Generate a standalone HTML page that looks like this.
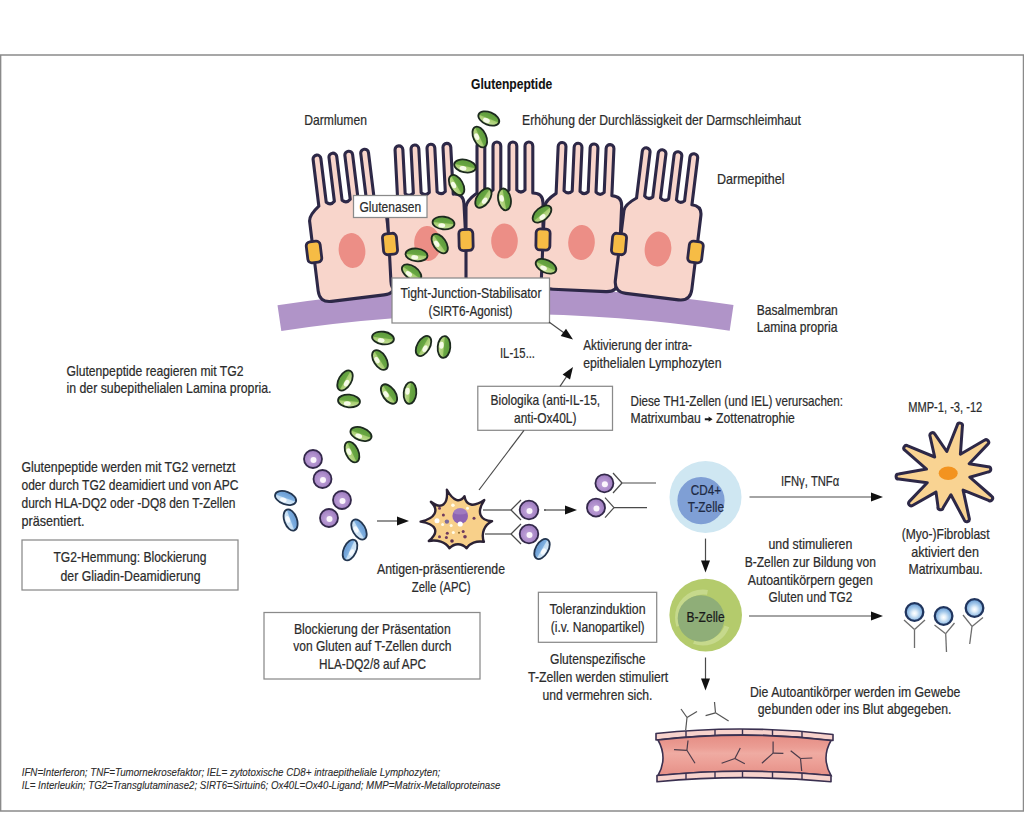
<!DOCTYPE html>
<html><head><meta charset="utf-8"><style>
html,body{margin:0;padding:0;background:#fff;width:1024px;height:813px;overflow:hidden}
svg{display:block;font-family:"Liberation Sans",sans-serif}
</style></head><body>
<svg width="1024" height="813" viewBox="0 0 1024 813">

<defs>
<linearGradient id="gg" x1="0" y1="0" x2="0" y2="1">
 <stop offset="0" stop-color="#7fb658"/><stop offset="0.15" stop-color="#5f9e3c"/><stop offset="0.47" stop-color="#6aa744"/><stop offset="0.55" stop-color="#a6cd6f"/><stop offset="0.85" stop-color="#bcdb8e"/><stop offset="1" stop-color="#d0e7ad"/>
</linearGradient>
<linearGradient id="bg" x1="0" y1="0" x2="0" y2="1">
 <stop offset="0" stop-color="#8fb9e3"/><stop offset="0.15" stop-color="#6d9fd6"/><stop offset="0.47" stop-color="#7fb0e0"/><stop offset="0.55" stop-color="#c4def4"/><stop offset="1" stop-color="#dcecf9"/>
</linearGradient>
<radialGradient id="pg" cx="0.45" cy="0.55" r="0.6">
 <stop offset="0" stop-color="#c4a9dc"/><stop offset="0.6" stop-color="#ac8bca"/><stop offset="1" stop-color="#9575b8"/>
</radialGradient>
<radialGradient id="abg" cx="0.5" cy="0.58" r="0.55">
 <stop offset="0" stop-color="#ffffff"/><stop offset="0.25" stop-color="#e3f0fa"/><stop offset="0.6" stop-color="#a3c8ea"/><stop offset="1" stop-color="#6a9dd3"/>
</radialGradient>
<linearGradient id="vess" x1="0" y1="0" x2="0" y2="1">
 <stop offset="0" stop-color="#e58d84"/><stop offset="0.3" stop-color="#eb9d94"/><stop offset="0.45" stop-color="#efaba2"/><stop offset="0.7" stop-color="#ec9f96"/><stop offset="1" stop-color="#e58f86"/>
</linearGradient>
</defs>
<rect x="0" y="0" width="1024" height="813" fill="#fff"/>
<rect x="0.6" y="55" width="1022.9" height="756" fill="none" stroke="#8a8a8a" stroke-width="1.5"/>
<path d="M 277.5,305.3 A 1537,1537 0 0 1 733.5,305.1 L 729.7,330.8 A 1511,1511 0 0 0 281.3,331.0 Z" fill="#b094c8"/>
<g transform="translate(352.0,250.5) rotate(-7.0) translate(-38.5,-48.0)">
<path d="M 12,96 Q 0,96 0,84 L 0,14 Q 0,8 11,0 L 11,-47.1 A 3.9,3.9 0 0 1 18.8,-47.1 L 18.8,-3 Q 22.9,1 27.0,-3 L 27.0,-47.1 A 3.9,3.9 0 0 1 34.8,-47.1 L 34.8,-3 Q 38.9,1 43.0,-3 L 43.0,-47.1 A 3.9,3.9 0 0 1 50.8,-47.1 L 50.8,-3 Q 54.9,1 59.0,-3 L 59.0,-47.1 A 3.9,3.9 0 0 1 66.8,-47.1 L 66.8,0 Q 77,0 77,10 L 77,84 Q 77,96 65,96 Z" fill="#f8d5cb" stroke="#2d2847" stroke-width="3.1" stroke-linejoin="round"/>
<ellipse cx="38.5" cy="48.0" rx="13.3" ry="17.5" fill="#ec8e86"/>
</g>
<g transform="translate(427.5,243.5) rotate(-3.0) translate(-38.5,-48.0)">
<path d="M 12,96 Q 0,96 0,84 L 0,14 Q 0,8 11,0 L 11,-47.1 A 3.9,3.9 0 0 1 18.8,-47.1 L 18.8,-3 Q 22.9,1 27.0,-3 L 27.0,-47.1 A 3.9,3.9 0 0 1 34.8,-47.1 L 34.8,-3 Q 38.9,1 43.0,-3 L 43.0,-47.1 A 3.9,3.9 0 0 1 50.8,-47.1 L 50.8,-3 Q 54.9,1 59.0,-3 L 59.0,-47.1 A 3.9,3.9 0 0 1 66.8,-47.1 L 66.8,0 Q 77,0 77,10 L 77,84 Q 77,96 65,96 Z" fill="#f8d5cb" stroke="#2d2847" stroke-width="3.1" stroke-linejoin="round"/>
<ellipse cx="38.5" cy="48.0" rx="13.3" ry="17.5" fill="#ec8e86"/>
</g>
<g transform="translate(504.5,241.0) rotate(0.0) translate(-38.5,-48.0)">
<path d="M 12,96 Q 0,96 0,84 L 0,14 Q 0,8 11,0 L 11,-47.1 A 3.9,3.9 0 0 1 18.8,-47.1 L 18.8,-3 Q 22.9,1 27.0,-3 L 27.0,-47.1 A 3.9,3.9 0 0 1 34.8,-47.1 L 34.8,-3 Q 38.9,1 43.0,-3 L 43.0,-47.1 A 3.9,3.9 0 0 1 50.8,-47.1 L 50.8,-3 Q 54.9,1 59.0,-3 L 59.0,-47.1 A 3.9,3.9 0 0 1 66.8,-47.1 L 66.8,0 Q 77,0 77,10 L 77,84 Q 77,96 65,96 Z" fill="#f8d5cb" stroke="#2d2847" stroke-width="3.1" stroke-linejoin="round"/>
<ellipse cx="38.5" cy="48.0" rx="13.3" ry="17.5" fill="#ec8e86"/>
</g>
<g transform="translate(581.5,242.5) rotate(2.5) translate(-38.5,-48.0)">
<path d="M 12,96 Q 0,96 0,84 L 0,14 Q 0,8 11,0 L 11,-47.1 A 3.9,3.9 0 0 1 18.8,-47.1 L 18.8,-3 Q 22.9,1 27.0,-3 L 27.0,-47.1 A 3.9,3.9 0 0 1 34.8,-47.1 L 34.8,-3 Q 38.9,1 43.0,-3 L 43.0,-47.1 A 3.9,3.9 0 0 1 50.8,-47.1 L 50.8,-3 Q 54.9,1 59.0,-3 L 59.0,-47.1 A 3.9,3.9 0 0 1 66.8,-47.1 L 66.8,0 Q 77,0 77,10 L 77,84 Q 77,96 65,96 Z" fill="#f8d5cb" stroke="#2d2847" stroke-width="3.1" stroke-linejoin="round"/>
<ellipse cx="38.5" cy="48.0" rx="13.3" ry="17.5" fill="#ec8e86"/>
</g>
<g transform="translate(658.0,249.0) rotate(7.0) translate(-38.5,-48.0)">
<path d="M 12,96 Q 0,96 0,84 L 0,14 Q 0,8 11,0 L 11,-47.1 A 3.9,3.9 0 0 1 18.8,-47.1 L 18.8,-3 Q 22.9,1 27.0,-3 L 27.0,-47.1 A 3.9,3.9 0 0 1 34.8,-47.1 L 34.8,-3 Q 38.9,1 43.0,-3 L 43.0,-47.1 A 3.9,3.9 0 0 1 50.8,-47.1 L 50.8,-3 Q 54.9,1 59.0,-3 L 59.0,-47.1 A 3.9,3.9 0 0 1 66.8,-47.1 L 66.8,0 Q 77,0 77,10 L 77,84 Q 77,96 65,96 Z" fill="#f8d5cb" stroke="#2d2847" stroke-width="3.1" stroke-linejoin="round"/>
<ellipse cx="38.5" cy="48.0" rx="13.3" ry="17.5" fill="#ec8e86"/>
</g>
<rect x="307" y="241.5" width="14" height="21" rx="4" transform="rotate(-7 314 252)" fill="#f6bc45" stroke="#2d2847" stroke-width="2.8"/>
<rect x="383" y="233.5" width="14" height="21" rx="4" transform="rotate(-5 390 244)" fill="#f6bc45" stroke="#2d2847" stroke-width="2.8"/>
<rect x="459" y="229.5" width="14" height="21" rx="4" transform="rotate(-1.5 466 240)" fill="#f6bc45" stroke="#2d2847" stroke-width="2.8"/>
<rect x="536" y="229.0" width="14" height="21" rx="4" transform="rotate(1 543 239.5)" fill="#f6bc45" stroke="#2d2847" stroke-width="2.8"/>
<rect x="612" y="233.5" width="14" height="21" rx="4" transform="rotate(5 619 244)" fill="#f6bc45" stroke="#2d2847" stroke-width="2.8"/>
<rect x="688.5" y="241.5" width="14" height="21" rx="4" transform="rotate(7 695.5 252)" fill="#f6bc45" stroke="#2d2847" stroke-width="2.8"/>
<g transform="translate(488.8,118.5) rotate(22)"><ellipse rx="11" ry="6.3" fill="url(#gg)" stroke="#1c2a1e" stroke-width="1.8"/><ellipse cx="-1.5" cy="2.6" rx="3.5" ry="2.2" fill="#f6fbe8"/></g>
<g transform="translate(479.8,137) rotate(65)"><ellipse rx="11" ry="6.3" fill="url(#gg)" stroke="#1c2a1e" stroke-width="1.8"/><ellipse cx="-1.5" cy="2.6" rx="3.5" ry="2.2" fill="#f6fbe8"/></g>
<g transform="translate(465,166) rotate(12)"><ellipse rx="11" ry="6.3" fill="url(#gg)" stroke="#1c2a1e" stroke-width="1.8"/><ellipse cx="-1.5" cy="2.6" rx="3.5" ry="2.2" fill="#f6fbe8"/></g>
<g transform="translate(456.6,185) rotate(60)"><ellipse rx="11" ry="6.3" fill="url(#gg)" stroke="#1c2a1e" stroke-width="1.8"/><ellipse cx="-1.5" cy="2.6" rx="3.5" ry="2.2" fill="#f6fbe8"/></g>
<g transform="translate(483.4,198) rotate(-55)"><ellipse rx="11" ry="6.3" fill="url(#gg)" stroke="#1c2a1e" stroke-width="1.8"/><ellipse cx="-1.5" cy="2.6" rx="3.5" ry="2.2" fill="#f6fbe8"/></g>
<g transform="translate(504.5,199.4) rotate(80)"><ellipse rx="11" ry="6.3" fill="url(#gg)" stroke="#1c2a1e" stroke-width="1.8"/><ellipse cx="-1.5" cy="2.6" rx="3.5" ry="2.2" fill="#f6fbe8"/></g>
<g transform="translate(542,214) rotate(-40)"><ellipse rx="11" ry="6.3" fill="url(#gg)" stroke="#1c2a1e" stroke-width="1.8"/><ellipse cx="-1.5" cy="2.6" rx="3.5" ry="2.2" fill="#f6fbe8"/></g>
<g transform="translate(443.5,223) rotate(6)"><ellipse rx="11" ry="6.3" fill="url(#gg)" stroke="#1c2a1e" stroke-width="1.8"/><ellipse cx="-1.5" cy="2.6" rx="3.5" ry="2.2" fill="#f6fbe8"/></g>
<g transform="translate(439.7,243.6) rotate(55)"><ellipse rx="11" ry="6.3" fill="url(#gg)" stroke="#1c2a1e" stroke-width="1.8"/><ellipse cx="-1.5" cy="2.6" rx="3.5" ry="2.2" fill="#f6fbe8"/></g>
<g transform="translate(416.5,254.9) rotate(6)"><ellipse rx="11" ry="6.3" fill="url(#gg)" stroke="#1c2a1e" stroke-width="1.8"/><ellipse cx="-1.5" cy="2.6" rx="3.5" ry="2.2" fill="#f6fbe8"/></g>
<g transform="translate(411.6,272.5) rotate(35)"><ellipse rx="11" ry="6.3" fill="url(#gg)" stroke="#1c2a1e" stroke-width="1.8"/><ellipse cx="-1.5" cy="2.6" rx="3.5" ry="2.2" fill="#f6fbe8"/></g>
<g transform="translate(546,266.3) rotate(25)"><ellipse rx="11" ry="6.3" fill="url(#gg)" stroke="#1c2a1e" stroke-width="1.8"/><ellipse cx="-1.5" cy="2.6" rx="3.5" ry="2.2" fill="#f6fbe8"/></g>
<rect x="353.5" y="195.5" width="73.5" height="22.0" fill="#fff" stroke="#8a8a8a" stroke-width="1.25"/>
<rect x="392" y="278" width="157.5" height="45" fill="#fff" stroke="#8a8a8a" stroke-width="1.25"/>
<rect x="477.8" y="386.3" width="134.7" height="44.0" fill="#fff" stroke="#8a8a8a" stroke-width="1.25"/>
<rect x="22" y="540" width="216" height="50" fill="#fff" stroke="#8a8a8a" stroke-width="1.25"/>
<rect x="538.4" y="592.3" width="118.30000000000007" height="50.0" fill="#fff" stroke="#8a8a8a" stroke-width="1.25"/>
<rect x="264" y="612.5" width="216" height="66.5" fill="#fff" stroke="#8a8a8a" stroke-width="1.25"/>
<g transform="translate(383,338) rotate(8)"><ellipse rx="11" ry="6.3" fill="url(#gg)" stroke="#1c2a1e" stroke-width="1.8"/><ellipse cx="-1.5" cy="2.6" rx="3.5" ry="2.2" fill="#f6fbe8"/></g>
<g transform="translate(380,360) rotate(58)"><ellipse rx="11" ry="6.3" fill="url(#gg)" stroke="#1c2a1e" stroke-width="1.8"/><ellipse cx="-1.5" cy="2.6" rx="3.5" ry="2.2" fill="#f6fbe8"/></g>
<g transform="translate(423.5,346) rotate(-60)"><ellipse rx="11" ry="6.3" fill="url(#gg)" stroke="#1c2a1e" stroke-width="1.8"/><ellipse cx="-1.5" cy="2.6" rx="3.5" ry="2.2" fill="#f6fbe8"/></g>
<g transform="translate(444,347) rotate(95)"><ellipse rx="11" ry="6.3" fill="url(#gg)" stroke="#1c2a1e" stroke-width="1.8"/><ellipse cx="-1.5" cy="2.6" rx="3.5" ry="2.2" fill="#f6fbe8"/></g>
<g transform="translate(345,380.5) rotate(-60)"><ellipse rx="11" ry="6.3" fill="url(#gg)" stroke="#1c2a1e" stroke-width="1.8"/><ellipse cx="-1.5" cy="2.6" rx="3.5" ry="2.2" fill="#f6fbe8"/></g>
<g transform="translate(349,401) rotate(5)"><ellipse rx="11" ry="6.3" fill="url(#gg)" stroke="#1c2a1e" stroke-width="1.8"/><ellipse cx="-1.5" cy="2.6" rx="3.5" ry="2.2" fill="#f6fbe8"/></g>
<g transform="translate(389,394) rotate(55)"><ellipse rx="11" ry="6.3" fill="url(#gg)" stroke="#1c2a1e" stroke-width="1.8"/><ellipse cx="-1.5" cy="2.6" rx="3.5" ry="2.2" fill="#f6fbe8"/></g>
<g transform="translate(410,393) rotate(95)"><ellipse rx="11" ry="6.3" fill="url(#gg)" stroke="#1c2a1e" stroke-width="1.8"/><ellipse cx="-1.5" cy="2.6" rx="3.5" ry="2.2" fill="#f6fbe8"/></g>
<g transform="translate(361,434) rotate(20)"><ellipse rx="11" ry="6.3" fill="url(#gg)" stroke="#1c2a1e" stroke-width="1.8"/><ellipse cx="-1.5" cy="2.6" rx="3.5" ry="2.2" fill="#f6fbe8"/></g>
<g transform="translate(352,452) rotate(65)"><ellipse rx="11" ry="6.3" fill="url(#gg)" stroke="#1c2a1e" stroke-width="1.8"/><ellipse cx="-1.5" cy="2.6" rx="3.5" ry="2.2" fill="#f6fbe8"/></g>
<circle cx="313" cy="459" r="9" fill="url(#pg)" stroke="#33284a" stroke-width="1.8"/><circle cx="313.5" cy="460" r="3" fill="#fbf6fc"/>
<circle cx="322.5" cy="479" r="9" fill="url(#pg)" stroke="#33284a" stroke-width="1.8"/><circle cx="323.0" cy="480" r="3" fill="#fbf6fc"/>
<circle cx="342" cy="500" r="9" fill="url(#pg)" stroke="#33284a" stroke-width="1.8"/><circle cx="342.5" cy="501" r="3" fill="#fbf6fc"/>
<circle cx="329" cy="518" r="9" fill="url(#pg)" stroke="#33284a" stroke-width="1.8"/><circle cx="329.5" cy="519" r="3" fill="#fbf6fc"/>
<g transform="translate(285.6,498) rotate(20)"><ellipse rx="11" ry="6.3" fill="url(#bg)" stroke="#22354f" stroke-width="1.8"/><ellipse cx="-1.5" cy="2.5" rx="3.4" ry="2.1" fill="#f5fafe"/></g>
<g transform="translate(290.6,520) rotate(70)"><ellipse rx="11" ry="6.3" fill="url(#bg)" stroke="#22354f" stroke-width="1.8"/><ellipse cx="-1.5" cy="2.5" rx="3.4" ry="2.1" fill="#f5fafe"/></g>
<g transform="translate(359,529.5) rotate(60)"><ellipse rx="11" ry="6.3" fill="url(#bg)" stroke="#22354f" stroke-width="1.8"/><ellipse cx="-1.5" cy="2.5" rx="3.4" ry="2.1" fill="#f5fafe"/></g>
<g transform="translate(350,550) rotate(-65)"><ellipse rx="11" ry="6.3" fill="url(#bg)" stroke="#22354f" stroke-width="1.8"/><ellipse cx="-1.5" cy="2.5" rx="3.4" ry="2.1" fill="#f5fafe"/></g>
<g transform="translate(542,549) rotate(-60)"><ellipse rx="11" ry="6.3" fill="url(#bg)" stroke="#22354f" stroke-width="1.8"/><ellipse cx="-1.5" cy="2.5" rx="3.4" ry="2.1" fill="#f5fafe"/></g>
<line x1="549" y1="322" x2="565.2431277099228" y2="333.84394728848537" stroke="#4a4a4a" stroke-width="1.2"/>
<path d="M 573.0,339.5 L 560.7,336.1 L 566.0,328.8 Z" fill="#111"/>
<line x1="560" y1="386.3" x2="567.6368571470326" y2="374.9622043894053" stroke="#4a4a4a" stroke-width="1.2"/>
<path d="M 573.0,367.0 L 570.0,379.5 L 562.6,374.4 Z" fill="#111"/>
<line x1="479" y1="490" x2="524" y2="430.3" stroke="#4a4a4a" stroke-width="1.2"/>
<line x1="377" y1="521" x2="399.4" y2="521.0" stroke="#4a4a4a" stroke-width="1.2"/>
<path d="M 409.0,521.0 L 397.0,525.5 L 397.0,516.5 Z" fill="#111"/>
<line x1="544" y1="510" x2="567.4" y2="510.0" stroke="#4a4a4a" stroke-width="1.2"/>
<path d="M 577.0,510.0 L 565.0,514.5 L 565.0,505.5 Z" fill="#111"/>
<line x1="749.5" y1="497" x2="873.4" y2="497.0" stroke="#4a4a4a" stroke-width="1.2"/>
<path d="M 883.0,497.0 L 871.0,501.5 L 871.0,492.5 Z" fill="#111"/>
<line x1="705.5" y1="538.6" x2="705.5" y2="562.9" stroke="#4a4a4a" stroke-width="1.2"/>
<path d="M 705.5,572.5 L 701.0,560.5 L 710.0,560.5 Z" fill="#111"/>
<line x1="749" y1="616" x2="873.4" y2="616.0" stroke="#4a4a4a" stroke-width="1.2"/>
<path d="M 883.0,616.0 L 871.0,620.5 L 871.0,611.5 Z" fill="#111"/>
<line x1="705.5" y1="657.5" x2="705.5" y2="680.9" stroke="#4a4a4a" stroke-width="1.2"/>
<path d="M 705.5,690.5 L 701.0,678.5 L 710.0,678.5 Z" fill="#111"/>
<line x1="483" y1="510" x2="511" y2="510" stroke="#4a4a4a" stroke-width="1.2"/>
<line x1="511" y1="510" x2="521" y2="500" stroke="#4a4a4a" stroke-width="1.2"/>
<line x1="511" y1="510" x2="521" y2="520" stroke="#4a4a4a" stroke-width="1.2"/>
<line x1="485" y1="534" x2="511" y2="534" stroke="#4a4a4a" stroke-width="1.2"/>
<line x1="511" y1="534" x2="521" y2="524" stroke="#4a4a4a" stroke-width="1.2"/>
<line x1="511" y1="534" x2="521" y2="544" stroke="#4a4a4a" stroke-width="1.2"/>
<circle cx="529" cy="510" r="9.3" fill="url(#pg)" stroke="#33284a" stroke-width="1.8"/><circle cx="529.5" cy="511" r="3" fill="#fbf6fc"/>
<circle cx="529" cy="534" r="9.3" fill="url(#pg)" stroke="#33284a" stroke-width="1.8"/><circle cx="529.5" cy="535" r="3" fill="#fbf6fc"/>
<line x1="544" y1="510" x2="546" y2="510" stroke="#4a4a4a" stroke-width="1.2"/>
<line x1="622" y1="483" x2="656" y2="483" stroke="#4a4a4a" stroke-width="1.2"/>
<line x1="622" y1="483" x2="613" y2="473" stroke="#4a4a4a" stroke-width="1.2"/>
<line x1="622" y1="483" x2="613" y2="493" stroke="#4a4a4a" stroke-width="1.2"/>
<line x1="614" y1="507.6" x2="647" y2="507.6" stroke="#4a4a4a" stroke-width="1.2"/>
<line x1="614" y1="507.6" x2="605" y2="497.6" stroke="#4a4a4a" stroke-width="1.2"/>
<line x1="614" y1="507.6" x2="605" y2="517.6" stroke="#4a4a4a" stroke-width="1.2"/>
<circle cx="604.4" cy="483.3" r="9" fill="url(#pg)" stroke="#33284a" stroke-width="1.8"/><circle cx="604.9" cy="484.3" r="3" fill="#fbf6fc"/>
<circle cx="596" cy="507.6" r="9" fill="url(#pg)" stroke="#33284a" stroke-width="1.8"/><circle cx="596.5" cy="508.6" r="3" fill="#fbf6fc"/>
<path d="M 420.6,521.6 Q 431.6,519.2 434.5,513.7 T 430.9,501.8 Q 438.9,507.9 443.4,504.5 T 446.9,489.7 Q 451.4,498.0 456.3,499.8 T 464.5,496.2 Q 465.5,503.4 471.0,504.5 T 484.3,500.1 Q 478.3,509.0 480.5,514.9 T 492.1,521.2 Q 486.2,524.0 483.9,529.8 T 483.9,541.8 Q 478.4,540.8 473.6,542.6 T 466.7,548.3 Q 462.8,544.3 458.0,544.3 T 449.5,548.3 Q 446.6,543.7 440.8,541.7 T 428.8,541 Q 437.1,534.2 434.8,528.8 T 420.6,521.6 Z" fill="#f8d08a" stroke="#2b2235" stroke-width="2.4" stroke-linejoin="round"/>
<circle cx="460.2" cy="516" r="7.8" fill="#8d64b2"/><path d="M 453,513 A 7.8,7.8 0 0 1 467.5,513 Q 460,516 453,513 Z" fill="#a683c4" opacity="0.7"/>
<circle cx="460.2" cy="524" r="2.6" fill="#fff"/>
<circle cx="437" cy="520.7" r="2.5" fill="#fff"/>
<circle cx="452.9" cy="505.2" r="1.8" fill="#fffbe8"/>
<circle cx="467.5" cy="508.3" r="1.5" fill="#fffbe8"/>
<circle cx="442.6" cy="524.6" r="1.5" fill="#fffbe8"/>
<circle cx="451.2" cy="525.5" r="1.5" fill="#fffbe8"/>
<circle cx="453.3" cy="532.4" r="1.5" fill="#fffbe8"/>
<circle cx="439.5" cy="508.3" r="1.5" fill="#6e3b5e"/>
<circle cx="443.4" cy="515.1" r="1.5" fill="#6e3b5e"/>
<circle cx="446.9" cy="521.6" r="2.2" fill="#7d6a9a"/>
<circle cx="474" cy="518.2" r="1.5" fill="#6e3b5e"/>
<circle cx="447.3" cy="533.2" r="1.5" fill="#6e3b5e"/>
<circle cx="463.2" cy="531.5" r="1.5" fill="#6e3b5e"/>
<circle cx="439.5" cy="536.7" r="1.5" fill="#6e3b5e"/>
<circle cx="446.4" cy="537.5" r="1.5" fill="#6e3b5e"/>
<circle cx="452" cy="541" r="1.8" fill="#5e2f50"/>
<circle cx="465" cy="536.7" r="1.8" fill="#6e3b5e"/>
<circle cx="459" cy="532.8" r="1" fill="#8a6a30"/>
<circle cx="705.5" cy="497" r="36" fill="#cfe7f2"/><circle cx="701" cy="500.6" r="23.6" fill="#7f9fd5"/>
<circle cx="705.7" cy="615.1" r="36.3" fill="#b4cb6c"/><circle cx="703" cy="617.5" r="25.5" fill="none" stroke="#c6d98c" stroke-width="5" stroke-dasharray="0 9 40 22 53 36"/><circle cx="701" cy="618.5" r="23.3" fill="#8fae78"/>
<path d="M 946.8,451.5 L 957.3,425.1 A 2.6,2.6 0 0 1 962.4,426.2 L 960.4,454.2 L 984.4,440.3 A 2.6,2.6 0 0 1 987.7,444.4 L 969.2,463.7 L 988.0,466.7 A 2.6,2.6 0 0 1 988.4,471.9 L 969.8,477.2 L 991.4,496.0 A 2.6,2.6 0 0 1 988.6,500.4 L 963.1,490.1 L 969.3,518.6 A 2.6,2.6 0 0 1 964.5,520.4 L 950.9,494.8 L 943.1,507.7 A 2.6,2.6 0 0 1 938.0,506.6 L 936.0,492.1 L 912.5,505.5 A 2.6,2.6 0 0 1 909.4,501.4 L 927.2,482.7 L 898.8,479.1 A 2.6,2.6 0 0 1 898.6,473.9 L 926.5,469.1 L 905.1,450.4 A 2.6,2.6 0 0 1 907.8,445.9 L 934.7,457.0 L 930.0,436.0 A 2.6,2.6 0 0 1 934.7,433.9 L 946.8,451.5 Z" fill="#f9d392" stroke="#2d2847" stroke-width="3" stroke-linejoin="round"/>
<ellipse cx="948.2" cy="473.2" rx="9.5" ry="6.8" fill="#f3931f"/>
<line x1="914.5" y1="629.6" x2="904" y2="620" stroke="#6e6e6e" stroke-width="1.3"/>
<line x1="914.5" y1="629.6" x2="925" y2="620" stroke="#6e6e6e" stroke-width="1.3"/>
<line x1="914.5" y1="629.6" x2="914.5" y2="648" stroke="#6e6e6e" stroke-width="1.3"/>
<circle cx="914.5" cy="612" r="8.8" fill="url(#abg)" stroke="#20355e" stroke-width="2.3"/>
<line x1="945.7" y1="633.7" x2="934.5" y2="625" stroke="#6e6e6e" stroke-width="1.3"/>
<line x1="945.7" y1="633.7" x2="954.5" y2="623" stroke="#6e6e6e" stroke-width="1.3"/>
<line x1="945.7" y1="633.7" x2="946.5" y2="652" stroke="#6e6e6e" stroke-width="1.3"/>
<circle cx="943.6" cy="616" r="8.8" fill="url(#abg)" stroke="#20355e" stroke-width="2.3"/>
<line x1="972" y1="626.4" x2="963" y2="615" stroke="#6e6e6e" stroke-width="1.3"/>
<line x1="972" y1="626.4" x2="983" y2="617.6" stroke="#6e6e6e" stroke-width="1.3"/>
<line x1="972" y1="626.4" x2="969.7" y2="644" stroke="#6e6e6e" stroke-width="1.3"/>
<circle cx="974.5" cy="608" r="8.8" fill="url(#abg)" stroke="#20355e" stroke-width="2.3"/>
<path d="M 656,733.5 Q 744,724 833,734.5 L 833,740.5 Q 744,730 656,740 Z" fill="#f7d2cc" stroke="#3a3050" stroke-width="1.6" stroke-linejoin="round"/>
<path d="M 658,740 Q 744,730 831,740.5 Q 821,758 831,775.5 Q 744,767 658,775.5 Q 668,758 658,740 Z" fill="url(#vess)" stroke="#3a3050" stroke-width="1.6"/>
<path d="M 657,775.5 Q 744,767 831,775.5 L 831,781.8 Q 744,773.5 657,781.8 Z" fill="#f7d2cc" stroke="#3a3050" stroke-width="1.6" stroke-linejoin="round"/>
<line x1="686" y1="730.9" x2="686" y2="737.2" stroke="#3a3050" stroke-width="1.4"/>
<line x1="686" y1="773.1" x2="686" y2="779.5" stroke="#3a3050" stroke-width="1.4"/>
<line x1="715" y1="729.4" x2="715" y2="735.6" stroke="#3a3050" stroke-width="1.4"/>
<line x1="715" y1="771.7" x2="715" y2="778.1" stroke="#3a3050" stroke-width="1.4"/>
<line x1="742.5" y1="729.0" x2="742.5" y2="735.1" stroke="#3a3050" stroke-width="1.4"/>
<line x1="742.5" y1="771.3" x2="742.5" y2="777.7" stroke="#3a3050" stroke-width="1.4"/>
<line x1="772.5" y1="729.7" x2="772.5" y2="735.7" stroke="#3a3050" stroke-width="1.4"/>
<line x1="772.5" y1="771.7" x2="772.5" y2="778.1" stroke="#3a3050" stroke-width="1.4"/>
<line x1="802" y1="731.4" x2="802" y2="737.5" stroke="#3a3050" stroke-width="1.4"/>
<line x1="802" y1="773.1" x2="802" y2="779.5" stroke="#3a3050" stroke-width="1.4"/>
<line x1="687" y1="717.5" x2="681" y2="709" stroke="#555" stroke-width="1.2"/>
<line x1="687" y1="717.5" x2="697" y2="711.6" stroke="#555" stroke-width="1.2"/>
<line x1="687" y1="717.5" x2="685.7" y2="730" stroke="#555" stroke-width="1.2"/>
<line x1="715.5" y1="712.8" x2="714.5" y2="702" stroke="#555" stroke-width="1.2"/>
<line x1="715.5" y1="712.8" x2="705.6" y2="715.6" stroke="#555" stroke-width="1.2"/>
<line x1="715.5" y1="712.8" x2="728.6" y2="721" stroke="#555" stroke-width="1.2"/>
<line x1="686.9" y1="750.3" x2="674" y2="749.6" stroke="#4a3b4a" stroke-width="1.2"/>
<line x1="686.9" y1="750.3" x2="688" y2="740.5" stroke="#4a3b4a" stroke-width="1.2"/>
<line x1="686.9" y1="750.3" x2="695" y2="763.2" stroke="#4a3b4a" stroke-width="1.2"/>
<line x1="734.9" y1="758.5" x2="740.3" y2="748" stroke="#4a3b4a" stroke-width="1.2"/>
<line x1="734.9" y1="758.5" x2="721.6" y2="763.2" stroke="#4a3b4a" stroke-width="1.2"/>
<line x1="734.9" y1="758.5" x2="744.8" y2="763.7" stroke="#4a3b4a" stroke-width="1.2"/>
<line x1="773.1" y1="753.1" x2="773.1" y2="741.4" stroke="#4a3b4a" stroke-width="1.2"/>
<line x1="773.1" y1="753.1" x2="761.9" y2="763.2" stroke="#4a3b4a" stroke-width="1.2"/>
<line x1="773.1" y1="753.1" x2="783.4" y2="753.4" stroke="#4a3b4a" stroke-width="1.2"/>
<line x1="800.5" y1="758.5" x2="790.7" y2="750.8" stroke="#4a3b4a" stroke-width="1.2"/>
<line x1="800.5" y1="758.5" x2="812.3" y2="758" stroke="#4a3b4a" stroke-width="1.2"/>
<line x1="800.5" y1="758.5" x2="801.7" y2="771" stroke="#4a3b4a" stroke-width="1.2"/>
<path d="M 704.8,418.2 L 708.6,418.2 L 708.6,416.6 L 712.6,419.2 L 708.6,421.8 L 708.6,420.2 L 704.8,420.2 Z" fill="#1a1a1a"/>
<text x="471.0" y="88.7" textLength="81.3" lengthAdjust="spacingAndGlyphs" font-size="14.5" font-weight="bold" font-style="normal" fill="#111" stroke="#111" stroke-width="0.1">Glutenpeptide</text>
<text x="304.3" y="125.4" textLength="62.6" lengthAdjust="spacingAndGlyphs" font-size="14.5" font-weight="normal" font-style="normal" fill="#2b2b2b" stroke="#2b2b2b" stroke-width="0.22">Darmlumen</text>
<text x="522.1" y="125.4" textLength="278.9" lengthAdjust="spacingAndGlyphs" font-size="14.5" font-weight="normal" font-style="normal" fill="#2b2b2b" stroke="#2b2b2b" stroke-width="0.22">Erhöhung der Durchlässigkeit der Darmschleimhaut</text>
<text x="717.0" y="183.6" textLength="67.5" lengthAdjust="spacingAndGlyphs" font-size="14.5" font-weight="normal" font-style="normal" fill="#2b2b2b" stroke="#2b2b2b" stroke-width="0.22">Darmepithel</text>
<text x="359.5" y="212.1" textLength="61.6" lengthAdjust="spacingAndGlyphs" font-size="14.5" font-weight="normal" font-style="normal" fill="#2b2b2b" stroke="#2b2b2b" stroke-width="0.22">Glutenasen</text>
<text x="400.5" y="297.9" textLength="141.0" lengthAdjust="spacingAndGlyphs" font-size="14.5" font-weight="normal" font-style="normal" fill="#2b2b2b" stroke="#2b2b2b" stroke-width="0.22">Tight-Junction-Stabilisator</text>
<text x="428.5" y="315.5" textLength="84.0" lengthAdjust="spacingAndGlyphs" font-size="14.5" font-weight="normal" font-style="normal" fill="#2b2b2b" stroke="#2b2b2b" stroke-width="0.22">(SIRT6-Agonist)</text>
<text x="756.8" y="314.8" textLength="81.0" lengthAdjust="spacingAndGlyphs" font-size="14.5" font-weight="normal" font-style="normal" fill="#2b2b2b" stroke="#2b2b2b" stroke-width="0.22">Basalmembran</text>
<text x="756.8" y="332.4" textLength="80.7" lengthAdjust="spacingAndGlyphs" font-size="14.5" font-weight="normal" font-style="normal" fill="#2b2b2b" stroke="#2b2b2b" stroke-width="0.22">Lamina propria</text>
<text x="583.2" y="350.1" textLength="108.8" lengthAdjust="spacingAndGlyphs" font-size="14.5" font-weight="normal" font-style="normal" fill="#2b2b2b" stroke="#2b2b2b" stroke-width="0.22">Aktivierung der intra-</text>
<text x="583.2" y="367.6" textLength="138.3" lengthAdjust="spacingAndGlyphs" font-size="14.5" font-weight="normal" font-style="normal" fill="#2b2b2b" stroke="#2b2b2b" stroke-width="0.22">epithelialen Lymphozyten</text>
<text x="500.0" y="358.1" textLength="35.0" lengthAdjust="spacingAndGlyphs" font-size="14.5" font-weight="normal" font-style="normal" fill="#2b2b2b" stroke="#2b2b2b" stroke-width="0.22">IL-15...</text>
<text x="66.5" y="375.9" textLength="177.0" lengthAdjust="spacingAndGlyphs" font-size="14.5" font-weight="normal" font-style="normal" fill="#2b2b2b" stroke="#2b2b2b" stroke-width="0.22">Glutenpeptide reagieren mit TG2</text>
<text x="66.5" y="392.9" textLength="205.0" lengthAdjust="spacingAndGlyphs" font-size="14.5" font-weight="normal" font-style="normal" fill="#2b2b2b" stroke="#2b2b2b" stroke-width="0.22">in der subepithelialen Lamina propria.</text>
<text x="490.5" y="405.1" textLength="109.7" lengthAdjust="spacingAndGlyphs" font-size="14.5" font-weight="normal" font-style="normal" fill="#2b2b2b" stroke="#2b2b2b" stroke-width="0.22">Biologika (anti-IL-15,</text>
<text x="514.0" y="423.1" textLength="62.5" lengthAdjust="spacingAndGlyphs" font-size="14.5" font-weight="normal" font-style="normal" fill="#2b2b2b" stroke="#2b2b2b" stroke-width="0.22">anti-Ox40L)</text>
<text x="630.5" y="405.5" textLength="212.6" lengthAdjust="spacingAndGlyphs" font-size="14.5" font-weight="normal" font-style="normal" fill="#2b2b2b" stroke="#2b2b2b" stroke-width="0.22">Diese TH1-Zellen (und IEL) verursachen:</text>
<text x="630.5" y="422.9" textLength="70.3" lengthAdjust="spacingAndGlyphs" font-size="14.5" font-weight="normal" font-style="normal" fill="#2b2b2b" stroke="#2b2b2b" stroke-width="0.22">Matrixumbau</text>
<text x="716.1" y="422.9" textLength="78.8" lengthAdjust="spacingAndGlyphs" font-size="14.5" font-weight="normal" font-style="normal" fill="#2b2b2b" stroke="#2b2b2b" stroke-width="0.22">Zottenatrophie</text>
<text x="908.2" y="411.8" textLength="74.1" lengthAdjust="spacingAndGlyphs" font-size="14.5" font-weight="normal" font-style="normal" fill="#2b2b2b" stroke="#2b2b2b" stroke-width="0.22">MMP-1, -3, -12</text>
<text x="21.5" y="471.9" textLength="214.0" lengthAdjust="spacingAndGlyphs" font-size="14.5" font-weight="normal" font-style="normal" fill="#2b2b2b" stroke="#2b2b2b" stroke-width="0.22">Glutenpeptide werden mit TG2 vernetzt</text>
<text x="21.5" y="489.9" textLength="217.0" lengthAdjust="spacingAndGlyphs" font-size="14.5" font-weight="normal" font-style="normal" fill="#2b2b2b" stroke="#2b2b2b" stroke-width="0.22">oder durch TG2 deamidiert und von APC</text>
<text x="21.5" y="507.9" textLength="214.0" lengthAdjust="spacingAndGlyphs" font-size="14.5" font-weight="normal" font-style="normal" fill="#2b2b2b" stroke="#2b2b2b" stroke-width="0.22">durch HLA-DQ2 oder -DQ8 den T-Zellen</text>
<text x="21.5" y="525.9" textLength="63.0" lengthAdjust="spacingAndGlyphs" font-size="14.5" font-weight="normal" font-style="normal" fill="#2b2b2b" stroke="#2b2b2b" stroke-width="0.22">präsentiert.</text>
<text x="53.5" y="562.1" textLength="153.0" lengthAdjust="spacingAndGlyphs" font-size="14.5" font-weight="normal" font-style="normal" fill="#2b2b2b" stroke="#2b2b2b" stroke-width="0.22">TG2-Hemmung: Blockierung</text>
<text x="60.5" y="580.6" textLength="140.0" lengthAdjust="spacingAndGlyphs" font-size="14.5" font-weight="normal" font-style="normal" fill="#2b2b2b" stroke="#2b2b2b" stroke-width="0.22">der Gliadin-Deamidierung</text>
<text x="690.8" y="495.1" textLength="30.2" lengthAdjust="spacingAndGlyphs" font-size="14.5" font-weight="normal" font-style="normal" fill="#1e2a44" stroke="#1e2a44" stroke-width="0.22">CD4+</text>
<text x="687.8" y="512.4" textLength="36.2" lengthAdjust="spacingAndGlyphs" font-size="14.5" font-weight="normal" font-style="normal" fill="#1e2a44" stroke="#1e2a44" stroke-width="0.22">T-Zelle</text>
<text x="781.0" y="485.9" textLength="58.2" lengthAdjust="spacingAndGlyphs" font-size="14.5" font-weight="normal" font-style="normal" fill="#2b2b2b" stroke="#2b2b2b" stroke-width="0.22">IFNγ, TNFα</text>
<text x="901.7" y="538.9" textLength="87.8" lengthAdjust="spacingAndGlyphs" font-size="14.5" font-weight="normal" font-style="normal" fill="#2b2b2b" stroke="#2b2b2b" stroke-width="0.22">(Myo-)Fibroblast</text>
<text x="911.2" y="556.7" textLength="67.7" lengthAdjust="spacingAndGlyphs" font-size="14.5" font-weight="normal" font-style="normal" fill="#2b2b2b" stroke="#2b2b2b" stroke-width="0.22">aktiviert den</text>
<text x="908.5" y="574.4" textLength="74.2" lengthAdjust="spacingAndGlyphs" font-size="14.5" font-weight="normal" font-style="normal" fill="#2b2b2b" stroke="#2b2b2b" stroke-width="0.22">Matrixumbau.</text>
<text x="377.0" y="573.5" textLength="128.0" lengthAdjust="spacingAndGlyphs" font-size="14.5" font-weight="normal" font-style="normal" fill="#2b2b2b" stroke="#2b2b2b" stroke-width="0.22">Antigen-präsentierende</text>
<text x="411.8" y="591.5" textLength="58.7" lengthAdjust="spacingAndGlyphs" font-size="14.5" font-weight="normal" font-style="normal" fill="#2b2b2b" stroke="#2b2b2b" stroke-width="0.22">Zelle (APC)</text>
<text x="768.5" y="549.0" textLength="83.8" lengthAdjust="spacingAndGlyphs" font-size="14.5" font-weight="normal" font-style="normal" fill="#2b2b2b" stroke="#2b2b2b" stroke-width="0.22">und stimulieren</text>
<text x="744.7" y="567.0" textLength="131.2" lengthAdjust="spacingAndGlyphs" font-size="14.5" font-weight="normal" font-style="normal" fill="#2b2b2b" stroke="#2b2b2b" stroke-width="0.22">B-Zellen zur Bildung von</text>
<text x="747.7" y="584.5" textLength="125.1" lengthAdjust="spacingAndGlyphs" font-size="14.5" font-weight="normal" font-style="normal" fill="#2b2b2b" stroke="#2b2b2b" stroke-width="0.22">Autoantikörpern gegen</text>
<text x="768.5" y="602.3" textLength="83.8" lengthAdjust="spacingAndGlyphs" font-size="14.5" font-weight="normal" font-style="normal" fill="#2b2b2b" stroke="#2b2b2b" stroke-width="0.22">Gluten und TG2</text>
<text x="549.5" y="614.3" textLength="96.0" lengthAdjust="spacingAndGlyphs" font-size="14.5" font-weight="normal" font-style="normal" fill="#2b2b2b" stroke="#2b2b2b" stroke-width="0.22">Toleranzinduktion</text>
<text x="550.8" y="632.3" textLength="93.8" lengthAdjust="spacingAndGlyphs" font-size="14.5" font-weight="normal" font-style="normal" fill="#2b2b2b" stroke="#2b2b2b" stroke-width="0.22">(i.v. Nanopartikel)</text>
<text x="686.6" y="621.6" textLength="38.1" lengthAdjust="spacingAndGlyphs" font-size="14.5" font-weight="normal" font-style="normal" fill="#1a1a1a" stroke="#1a1a1a" stroke-width="0.22">B-Zelle</text>
<text x="293.9" y="633.6" textLength="156.8" lengthAdjust="spacingAndGlyphs" font-size="14.5" font-weight="normal" font-style="normal" fill="#2b2b2b" stroke="#2b2b2b" stroke-width="0.22">Blockierung der Präsentation</text>
<text x="293.2" y="651.1" textLength="158.2" lengthAdjust="spacingAndGlyphs" font-size="14.5" font-weight="normal" font-style="normal" fill="#2b2b2b" stroke="#2b2b2b" stroke-width="0.22">von Gluten auf T-Zellen durch</text>
<text x="319.0" y="668.7" textLength="107.0" lengthAdjust="spacingAndGlyphs" font-size="14.5" font-weight="normal" font-style="normal" fill="#2b2b2b" stroke="#2b2b2b" stroke-width="0.22">HLA-DQ2/8 auf APC</text>
<text x="550.0" y="664.3" textLength="95.5" lengthAdjust="spacingAndGlyphs" font-size="14.5" font-weight="normal" font-style="normal" fill="#2b2b2b" stroke="#2b2b2b" stroke-width="0.22">Glutenspezifische</text>
<text x="528.1" y="682.0" textLength="140.1" lengthAdjust="spacingAndGlyphs" font-size="14.5" font-weight="normal" font-style="normal" fill="#2b2b2b" stroke="#2b2b2b" stroke-width="0.22">T-Zellen werden stimuliert</text>
<text x="542.5" y="699.5" textLength="110.0" lengthAdjust="spacingAndGlyphs" font-size="14.5" font-weight="normal" font-style="normal" fill="#2b2b2b" stroke="#2b2b2b" stroke-width="0.22">und vermehren sich.</text>
<text x="750.0" y="696.7" textLength="210.3" lengthAdjust="spacingAndGlyphs" font-size="14.5" font-weight="normal" font-style="normal" fill="#2b2b2b" stroke="#2b2b2b" stroke-width="0.22">Die Autoantikörper werden im Gewebe</text>
<text x="757.8" y="713.8" textLength="193.7" lengthAdjust="spacingAndGlyphs" font-size="14.5" font-weight="normal" font-style="normal" fill="#2b2b2b" stroke="#2b2b2b" stroke-width="0.22">gebunden oder ins Blut abgegeben.</text>
<text x="21.7" y="775.6" textLength="418.6" lengthAdjust="spacingAndGlyphs" font-size="11" font-weight="normal" font-style="italic" fill="#2b2b2b" stroke="#2b2b2b" stroke-width="0.1">IFN=Interferon; TNF=Tumornekrosefaktor; IEL= zytotoxische CD8+ intraepitheliale  Lymphozyten;</text>
<text x="21.7" y="789.1" textLength="478.8" lengthAdjust="spacingAndGlyphs" font-size="11" font-weight="normal" font-style="italic" fill="#2b2b2b" stroke="#2b2b2b" stroke-width="0.1">IL= Interleukin; TG2=Transglutaminase2; SIRT6=Sirtuin6; Ox40L=Ox40-Ligand; MMP=Matrix-Metalloproteinase</text>
</svg>
</body></html>
